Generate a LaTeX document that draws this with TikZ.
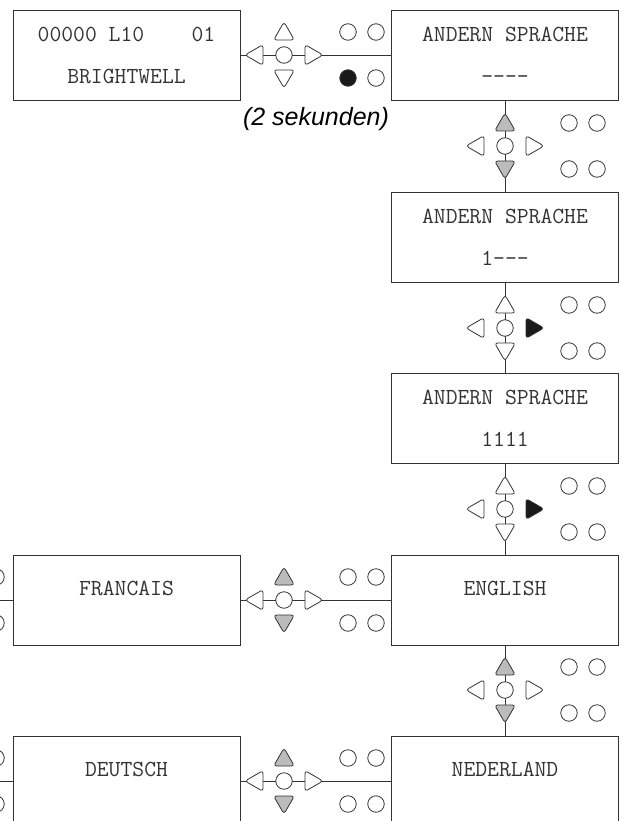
\documentclass[tikz,border=0pt]{standalone}
\usepackage{fontspec}
\setsansfont{Liberation Sans}
\usetikzlibrary{shapes.geometric}

\definecolor{wiregray}{HTML}{333333}
\definecolor{keygray}{HTML}{BBBBBB}
\definecolor{ledblack}{HTML}{1A1A1A}
\definecolor{lcdtext}{HTML}{333333}

% keypad: name, centre, up, down, left, right, lower left led
\newcommand{\keypad}[7]{%
  \begin{scope}[shift={#2}]
    \node[keybtn] (#1) at (0,0) {};
    \node[keytri, fill=#3] (#1-up) at (0,-21) {};
    \node[keytri, fill=#4, shape border rotate=180] (#1-down) at (0,21) {};
    \node[keytri, fill=#5, shape border rotate=90] (#1-left) at (-27,0) {};
    \node[keytri, fill=#6, shape border rotate=-90] (#1-right) at (27,0) {};
    \node[led] (#1-led1) at (64,-23) {};
    \node[led] (#1-led2) at (92,-23) {};
    \node[led, fill=#7] (#1-led3) at (64,23) {};
    \node[led] (#1-led4) at (92,23) {};
  \end{scope}}

\begin{document}
\begin{tikzpicture}[x=1pt, y=-1pt,
  panel/.style={draw=wiregray, line width=0.9pt, minimum width=227pt,
    minimum height=90pt, inner sep=0pt, align=center, text=lcdtext,
    font=\ttfamily\fontsize{23}{27}\selectfont},
  link/.style={draw=wiregray, line width=0.9pt},
  keybtn/.style={circle, draw=wiregray, line width=0.8pt, fill=white,
    minimum size=16.5pt, inner sep=0pt},
  led/.style={keybtn},
  keytri/.style={regular polygon, regular polygon sides=3, draw=wiregray,
    line width=0.8pt, rounded corners=3pt, minimum size=24pt, inner sep=0pt},
  note/.style={font=\sffamily\itshape\fontsize{25}{30}\selectfont}]
\clip (0,0) rectangle (623,821);

% display panels
\node[panel] (brightwell) at (126.5,55) {00000 L10\hphantom{0000}01\\[15pt]BRIGHTWELL};
\node[panel] (lang) at (505,55) {ANDERN SPRACHE\\[15pt]{-}{-}{-}{-}};
\node[panel] (lang1) at (505,237) {ANDERN SPRACHE\\[15pt]1{-}{-}{-}};
\node[panel] (lang2) at (505,418) {ANDERN SPRACHE\\[15pt]1111};
\node[panel, text depth=24pt] (english) at (505,600) {ENGLISH};
\node[panel, text depth=24pt] (francais) at (126.5,600) {FRANCAIS};
\node[panel, text depth=24pt] (nederland) at (505,781) {NEDERLAND};
\node[panel, text depth=24pt] (deutsch) at (126.5,781) {DEUTSCH};

% connections
\draw[link] (brightwell.east) -- (lang.west);
\draw[link] (lang.south) -- (lang1.north);
\draw[link] (lang1.south) -- (lang2.north);
\draw[link] (lang2.south) -- (english.north);
\draw[link] (english.south) -- (nederland.north);
\draw[link] (english.west) -- (francais.east);
\draw[link] (nederland.west) -- (deutsch.east);
\coordinate (fr-in) at (-30,600);
\coordinate (de-in) at (-30,781);
\draw[link] (fr-in) -- (francais.west);
\draw[link] (de-in) -- (deutsch.west);

% keypads
\keypad{kp1}{(284,55)}{white}{white}{white}{white}{ledblack}
\keypad{kp2}{(505,146)}{keygray}{keygray}{white}{white}{white}
\keypad{kp3}{(505,328)}{white}{white}{white}{ledblack}{white}
\keypad{kp4}{(505,509)}{white}{white}{white}{ledblack}{white}
\keypad{kp5}{(505,690)}{keygray}{keygray}{white}{white}{white}
\keypad{kp6}{(284,600)}{keygray}{keygray}{white}{white}{white}
\keypad{kp7}{(284,781)}{keygray}{keygray}{white}{white}{white}

% leds of the keypads further left
\node[led] (fr-led1) at (-4,577) {};
\node[led] (fr-led2) at (-4,623) {};
\node[led] (de-led1) at (-4,758) {};
\node[led] (de-led2) at (-4,804) {};

\node[note] (hold) at (316,119) {(2 sekunden)};
\end{tikzpicture}
\end{document}
